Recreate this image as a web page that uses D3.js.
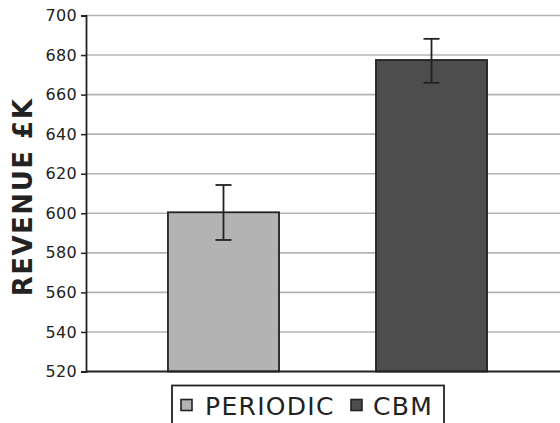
<!DOCTYPE html>
<html><head><meta charset="utf-8">
<script src="https://cdn.jsdelivr.net/npm/d3@7"></script>
<style>
html,body{margin:0;padding:0;background:#fff;}
svg{display:block;font-family:"DejaVu Sans",Verdana,sans-serif;}
</style></head>
<body><svg id="c" width="560" height="423"></svg>
<script>
const categories = ["PERIODIC", "CBM"];
const values = [600.5, 677.5];
const errLow = [586.5, 666];
const errHigh = [614.3, 688.2];
const yTicks = [520, 540, 560, 580, 600, 620, 640, 660, 680, 700];
const colors = ["#b3b3b3", "#4d4d4d"];
const yTitle = "REVENUE £K";

const svg = d3.select("#c");
const W = 560;
const x0 = 86, yTop = 15.5, yBot = 371.5;

const y = d3.scaleLinear().domain([520, 700]).range([yBot, yTop]);
const x = d3.scaleBand().domain(categories).range([x0, 569])
  .paddingInner(0.466).paddingOuter(0.394);

// gridlines
svg.append("g").selectAll("line").data(yTicks.filter(d => d > 520)).join("line")
  .attr("x1", x0).attr("x2", W).attr("y1", d => y(d)).attr("y2", d => y(d))
  .attr("stroke", "#b4b4b4").attr("stroke-width", 1.6);

// bars
svg.append("g").selectAll("rect").data(categories).join("rect")
  .attr("x", d => x(d)).attr("width", x.bandwidth())
  .attr("y", (d, i) => y(values[i])).attr("height", (d, i) => yBot - y(values[i]))
  .attr("fill", (d, i) => colors[i]).attr("stroke", "#222").attr("stroke-width", 1.8);

// error bars
const eg = svg.append("g").attr("stroke", "#222").attr("stroke-width", 1.8);
categories.forEach((c, i) => {
  const cx = x(c) + x.bandwidth() / 2;
  eg.append("line").attr("x1", cx).attr("x2", cx).attr("y1", y(errLow[i])).attr("y2", y(errHigh[i]));
  eg.append("line").attr("x1", cx - 8).attr("x2", cx + 8).attr("y1", y(errLow[i])).attr("y2", y(errLow[i]));
  eg.append("line").attr("x1", cx - 8).attr("x2", cx + 8).attr("y1", y(errHigh[i])).attr("y2", y(errHigh[i]));
});

// x baseline
svg.append("line").attr("x1", x0).attr("x2", W).attr("y1", yBot).attr("y2", yBot)
  .attr("stroke", "#222").attr("stroke-width", 1.8);

// y axis
const yAxis = d3.axisLeft(y).tickValues(yTicks).tickSize(5).tickPadding(4).tickFormat(d3.format("d"));
const ga = svg.append("g").attr("transform", `translate(${x0},0)`).call(yAxis);
ga.select(".domain").attr("stroke", "#222").attr("stroke-width", 1.8);
ga.selectAll(".tick line").attr("stroke", "#222").attr("stroke-width", 1.5);
ga.selectAll(".tick text").attr("font-size", 16).attr("fill", "#222")
  .attr("font-family", "DejaVu Sans").attr("letter-spacing", "0.3px");

// y title
svg.append("text").attr("transform", "translate(32,197) rotate(-90)")
  .attr("text-anchor", "middle").attr("font-size", 26).attr("font-weight", "bold")
  .attr("letter-spacing", "1.5px").attr("fill", "#222").text(yTitle);

// legend
const lg = svg.append("g");
lg.append("rect").attr("x", 172).attr("y", 385.5).attr("width", 272).attr("height", 50)
  .attr("fill", "#fff").attr("stroke", "#222").attr("stroke-width", 1.8);
const legX = [181, 351];
const textX = [205, 373];
categories.forEach((c, i) => {
  lg.append("rect").attr("x", legX[i]).attr("y", 399.5).attr("width", 11).attr("height", 11)
    .attr("fill", colors[i]).attr("stroke", "#222").attr("stroke-width", 1.6);
  lg.append("text").attr("x", textX[i]).attr("y", 415).attr("font-size", 25)
    .attr("letter-spacing", "1.3px").attr("fill", "#222").text(c);
});
</script></body></html>
